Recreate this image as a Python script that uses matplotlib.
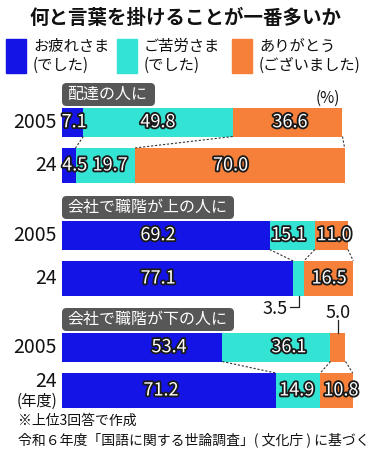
import matplotlib
matplotlib.use('Agg')
import matplotlib.pyplot as plt
import matplotlib.patheffects as pe
from matplotlib.patches import FancyBboxPatch

plt.rcParams['font.family'] = ['Noto Sans CJK JP', 'DejaVu Sans']

# data (%)
groups = ['配達の人に', '会社で職階が上の人に', '会社で職階が下の人に']
years = ['2005', '24']
otsukare = [[7.1, 4.5], [69.2, 77.1], [53.4, 71.2]]
gokurou = [[49.8, 19.7], [15.1, 3.5], [36.1, 14.9]]
arigatou = [[36.6, 70.0], [11.0, 16.5], [5.0, 10.8]]
series_names = ['お疲れさま\n(でした)', 'ご苦労さま\n(でした)', 'ありがとう\n(ございました)']

colors = ['#1414e6', '#33e3d3', '#f6803a']

# layout (pixels)
W, H = 374, 450
X0 = 62          # pixel x of 0%
SC = 3.0         # pixels per %
group_top = [108, 221, 333]
bar_rows = [(0, 28.5), (40, 75)]     # top/bottom offsets of 2005 and 24 rows
box_w = [93, 172, 172]
# label x offsets (%) from segment centre
dx = [[[0.5, 0, 0.8], [2.0, 1.7, -3]],
      [[-2.6, -1.2, 0.9], [-6.5, 0, 0.2]],
      [[9, 4.2, 0], [-2.6, -0.4, 1.5]]]
outside = {(1, 1, 1): 'below', (2, 0, 2): 'above'}

fig = plt.figure(figsize=(W / 100, H / 100), dpi=100)
ax = fig.add_axes([0, 0, 1, 1])
ax.set_xlim(-X0 / SC, (W - X0) / SC)
ax.set_ylim(H, 0)
ax.axis('off')


def fx(x):
    return x / W


def fy(y):
    return 1 - y / H


def pxx(p):
    return (p - X0) / SC


stroke = [pe.withStroke(linewidth=2.6, foreground='#1a1a1a')]

for g, name in enumerate(groups):
    top = group_top[g]
    vals = [[otsukare[g][r], gokurou[g][r], arigatou[g][r]] for r in range(2)]
    for r in range(2):
        y0 = top + bar_rows[r][0]
        y1 = top + bar_rows[r][1]
        yc = (y0 + y1) / 2
        h = y1 - y0
        left = 0
        for s in range(3):
            v = vals[r][s]
            ax.barh(yc, v, left=left, height=h, color=colors[s], linewidth=0)
            cx = left + v / 2
            key = (g, r, s)
            if key in outside:
                if outside[key] == 'below':
                    ax.plot([cx, cx, cx - 3], [y1, y1 + 11, y1 + 11], color='#222', lw=0.9)
                    ax.text(cx - 3.5, y1 + 13, f'{v:.1f}', ha='right', va='center',
                            fontsize=13, color='#111')
                else:
                    ax.plot([cx, cx], [y0 - 13, y0], color='#222', lw=0.9)
                    ax.text(cx, y0 - 20, f'{v:.1f}', ha='center', va='center',
                            fontsize=13, color='#111')
            else:
                ax.text(cx + dx[g][r][s], yc, f'{v:.1f}', ha='center', va='center',
                        fontsize=13, color='white', path_effects=stroke)
            left += v
        lab = years[r]
        ly = yc
        if g == 2 and r == 1:
            ly = yc - 9
            ax.text(pxx(57), yc + 11, '(年度)', ha='right', va='center',
                    fontsize=11, color='#111')
        ax.text(pxx(57), ly, lab, ha='right', va='center', fontsize=14, color='#111')

    # dashed connectors between the two rows
    ya = top + bar_rows[0][1]
    yb = top + bar_rows[1][0]
    ca = 0
    cb = 0
    for s in range(3):
        ca += vals[0][s]
        cb += vals[1][s]
        ax.plot([ca, cb], [ya, yb], color='#333', lw=0.8, ls=(0, (2, 1.6)))

    # section header box
    bx = FancyBboxPatch((0, top - 25), box_w[g] / SC, 23,
                        boxstyle='round,pad=0,rounding_size=1.5',
                        mutation_aspect=SC, facecolor='#575757', edgecolor='none')
    ax.add_patch(bx)
    ax.text(pxx(67), top - 13.5, name, ha='left', va='center', fontsize=11.5,
            color='white')

# title
fig.text(fx(186), fy(18), '何と言葉を掛けることが一番多いか', ha='center', va='center',
         fontsize=14, fontweight='bold', color='#111')

# legend
leg_x = [6, 117, 232]
for i in range(3):
    ax.add_patch(plt.Rectangle((pxx(leg_x[i]), 39), 20 / SC, 34, color=colors[i],
                               clip_on=False))
    ax.text(pxx(leg_x[i] + 27), 56, series_names[i], ha='left', va='center',
            fontsize=11, color='#111', linespacing=1.15)

fig.text(fx(340), fy(98), '(%)', ha='right', va='center', fontsize=11, color='#111')

# footer
fig.text(fx(18), fy(421), '※上位3回答で作成', ha='left', va='center', fontsize=10,
         color='#111')
fig.text(fx(18), fy(440), '令和６年度「国語に関する世論調査」( 文化庁 ) に基づく',
         ha='left', va='center', fontsize=10, color='#111')

fig.savefig('out.png', dpi=100)
